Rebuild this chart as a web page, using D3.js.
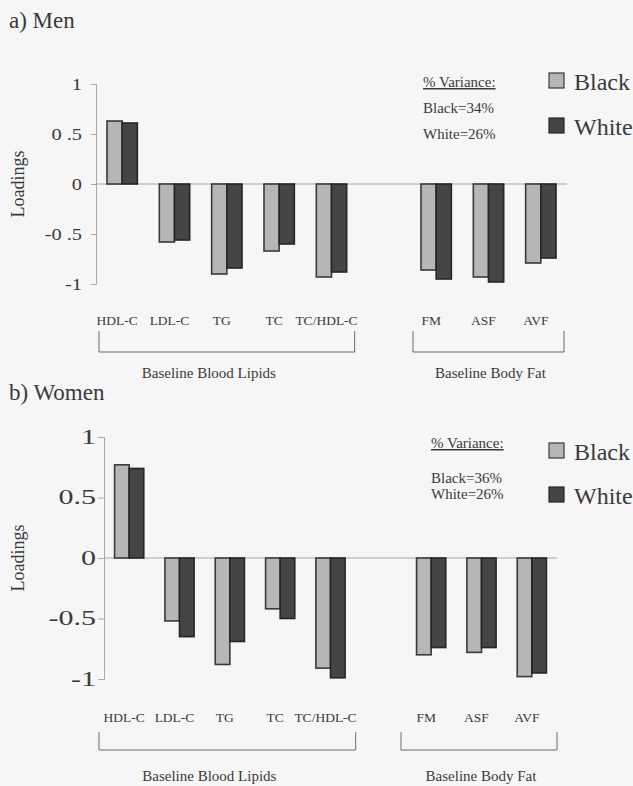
<!DOCTYPE html>
<html>
<head>
<meta charset="utf-8">
<script src="https://cdn.jsdelivr.net/npm/d3@7"></script>
<style>
  html, body { margin: 0; padding: 0; background: #f6f6f6; }
  svg { display: block; font-family: "Liberation Serif", "Times New Roman", serif; }
</style>
</head>
<body>
<svg id="chart" width="633" height="786"></svg>
<script>
// ---- data ----
const slots = ["HDL-C", "LDL-C", "TG", "TC", "TC/HDL-C", "", "FM", "ASF", "AVF"];
const categories = ["HDL-C", "LDL-C", "TG", "TC", "TC/HDL-C", "FM", "ASF", "AVF"];
const seriesNames = ["Black", "White"];
const groupNames = ["Baseline Blood Lipids", "Baseline Body Fat"];
const groupMembers = [["HDL-C", "TC/HDL-C"], ["FM", "AVF"]];
const menBlack = [0.63, -0.58, -0.90, -0.67, -0.93, -0.86, -0.93, -0.79];
const menWhite = [0.61, -0.56, -0.84, -0.60, -0.88, -0.95, -0.98, -0.74];
const womenBlack = [0.77, -0.52, -0.88, -0.42, -0.91, -0.80, -0.78, -0.98];
const womenWhite = [0.74, -0.65, -0.69, -0.50, -0.99, -0.74, -0.74, -0.95];
const yTicks = [1, 0.5, 0, -0.5, -1];
const menTickLabels = ["1", "0 .5", "0", "-0 .5", "-1"];
const womenTickLabels = ["1", "0.5", "0", "-0.5", "-1"];
const menVariance = ["% Variance:", "Black=34%", "White=26%"];
const womenVariance = ["% Variance:", "Black=36%", "White=26%"];

const colors = { Black: "#b6b6b6", White: "#454545" };
const strokes = { Black: "#3a3a3a", White: "#262626" };
const textColor = "#3a3a3a";

const svg = d3.select("#chart");

function panel(cfg) {
  const g = svg.append("g");
  const x = d3.scaleBand().domain(slots).range(cfg.xRange).paddingInner(0.42).paddingOuter(0.21);
  const slotX = d3.scaleBand().domain(slots).range(cfg.xRange).padding(0);
  const xs = d3.scaleBand().domain(seriesNames).range([0, x.bandwidth()]).padding(0);
  const y = d3.scaleLinear().domain([-1, 1]).range(cfg.yRange);

  // title
  g.append("text").attr("x", 9).attr("y", cfg.titleY)
    .attr("font-size", 23).attr("fill", textColor).text(cfg.title);

  // y axis
  const axis = d3.axisLeft(y).tickValues(yTicks)
    .tickFormat((d, i) => cfg.tickLabels[i])
    .tickSize(cfg.tickSize).tickPadding(cfg.tickPad);
  const ag = g.append("g").attr("transform", `translate(${cfg.xRange[0]},0)`).call(axis);
  ag.select(".domain").attr("stroke", "#a8a8a8").attr("stroke-width", 1);
  ag.selectAll(".tick line").attr("stroke", "#a8a8a8");
  ag.selectAll(".tick text").attr("font-size", cfg.tickFont)
    .attr("font-family", "Liberation Serif, Times New Roman, serif")
    .attr("fill", textColor)
    .attr("x", -(cfg.tickSize + cfg.tickPad) / cfg.tickStretch)
    .attr("transform", `scale(${cfg.tickStretch},1)`);

  // y label
  g.append("text")
    .attr("transform", `translate(${cfg.yLabelX},${y(0)}) rotate(-90)`)
    .attr("text-anchor", "middle").attr("font-size", 18).attr("fill", textColor)
    .text("Loadings");

  // zero line
  g.append("line").attr("x1", cfg.xRange[0]).attr("x2", cfg.xRange[1])
    .attr("y1", y(0)).attr("y2", y(0)).attr("stroke", "#a8a8a8").attr("stroke-width", 1);

  // bars
  const rows = categories.map((c, i) => ({ cat: c, vals: [
    { s: "Black", v: cfg.black[i] }, { s: "White", v: cfg.white[i] }] }));
  const cg = g.selectAll("g.cat").data(rows).join("g")
    .attr("transform", d => `translate(${x(d.cat)},0)`);
  cg.selectAll("rect").data(d => d.vals).join("rect")
    .attr("x", d => xs(d.s))
    .attr("width", xs.bandwidth())
    .attr("y", d => y(Math.max(0, d.v)))
    .attr("height", d => Math.abs(y(d.v) - y(0)))
    .attr("fill", d => colors[d.s])
    .attr("stroke", d => strokes[d.s])
    .attr("stroke-width", 1.6);

  // category labels
  g.selectAll("text.cat").data(categories).join("text")
    .attr("class", "cat")
    .attr("x", d => x(d) + x.bandwidth() / 2 - 5)
    .attr("y", cfg.catY).attr("text-anchor", "middle")
    .attr("font-size", 13.5).attr("fill", textColor).text(d => d);

  // brackets
  groupMembers.forEach((m, i) => {
    const x0 = slotX(m[0]) + cfg.bracketInset[0];
    const x1 = slotX(m[1]) + slotX.bandwidth() - cfg.bracketInset[1];
    g.append("path")
      .attr("d", `M${x0},${cfg.bracketY[0]}V${cfg.bracketY[1]}H${x1}V${cfg.bracketY[0]}`)
      .attr("fill", "none").attr("stroke", "#6a6a6a").attr("stroke-width", 1);
    g.append("text").attr("x", (x0 + x1) / 2 + (i === 0 ? -18 : 2)).attr("y", cfg.groupY)
      .attr("text-anchor", "middle").attr("font-size", 15).attr("fill", textColor)
      .text(groupNames[i]);
  });

  // variance text
  const vt = g.append("g");
  cfg.variance.forEach((t, i) => {
    vt.append("text").attr("x", cfg.varX).attr("y", cfg.varY[i])
      .attr("font-size", 15).attr("fill", textColor)
      .attr("text-decoration", i === 0 ? "underline" : null).text(t);
  });

  // legend
  seriesNames.forEach((s, i) => {
    g.append("rect").attr("x", 549).attr("y", cfg.legY[i]).attr("width", 15).attr("height", 15)
      .attr("fill", colors[s]).attr("stroke", strokes[s]).attr("stroke-width", 1.2);
    g.append("text").attr("x", 574).attr("y", cfg.legY[i] + 17)
      .attr("font-size", 24).attr("fill", textColor).text(s);
  });
}

panel({
  title: "a) Men", titleY: 28,
  xRange: [96, 567], yRange: [284, 84],
  black: menBlack, white: menWhite,
  tickLabels: menTickLabels, tickSize: 5, tickPad: 9, tickFont: 17, tickStretch: 1.2,
  yLabelX: 24,
  catY: 325, bracketY: [331, 352], bracketInset: [3, 3], groupY: 378,
  variance: menVariance, varX: 423, varY: [87, 113, 139],
  legY: [73, 118]
});

panel({
  title: "b) Women", titleY: 400,
  xRange: [104, 557], yRange: [679, 437],
  black: womenBlack, white: womenWhite,
  tickLabels: womenTickLabels, tickSize: 6, tickPad: 2, tickFont: 20, tickStretch: 1.5,
  yLabelX: 24,
  catY: 722, bracketY: [732, 750], bracketInset: [-5, 0], groupY: 781,
  variance: womenVariance, varX: 431, varY: [448, 483, 499],
  legY: [443, 487]
});
</script>
</body>
</html>
